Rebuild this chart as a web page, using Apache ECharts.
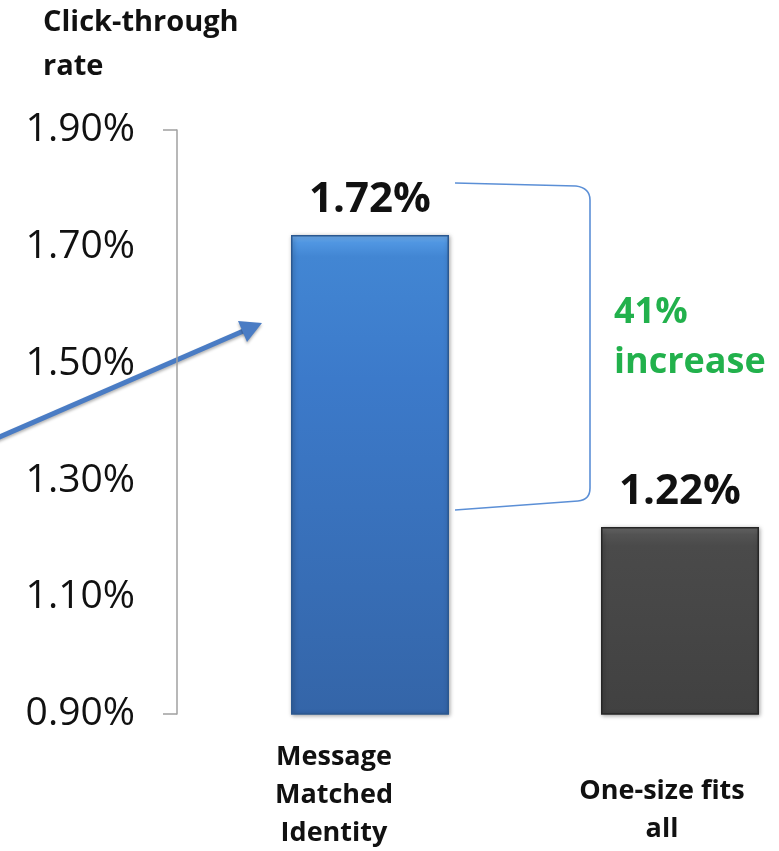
<!DOCTYPE html>
<html>
<head>
<meta charset="utf-8">
<script src="https://cdn.jsdelivr.net/npm/echarts@6/dist/echarts.min.js"></script>
<style>
html,body{margin:0;padding:0;background:#fff;}
#chart{width:779px;height:851px;}
</style>
</head>
<body>
<div id="chart"></div>
<script>
const categories = ['Message\nMatched\nIdentity', 'One-size fits\nall'];
const ctrValues = [1.72, 1.22];
const yMin = 0.9, yMax = 1.9, yStep = 0.2;
const titleText = 'Click-through\nrate';
const annotationText = '41%\nincrease';

const FONT = '"Open Sans", "DejaVu Sans", sans-serif';
const chart = echarts.init(document.getElementById('chart'));

const barStyles = [
  {
    color: new echarts.graphic.LinearGradient(0, 0, 0, 1, [
      {offset: 0, color: '#74b2f3'}, {offset: 0.016, color: '#5096e2'}, {offset: 0.045, color: '#4286d3'},
      {offset: 0.3, color: '#3c7aca'}, {offset: 1, color: '#3465a8'}
    ]),
    borderColor: '#2b5890', borderWidth: 1.5,
    shadowColor: 'rgba(0,0,0,0.35)', shadowBlur: 4, shadowOffsetX: 1, shadowOffsetY: 1
  },
  {
    color: new echarts.graphic.LinearGradient(0, 0, 0, 1, [
      {offset: 0, color: '#6e6e6e'}, {offset: 0.04, color: '#535353'}, {offset: 0.1, color: '#4a4a4a'},
      {offset: 1, color: '#414141'}
    ]),
    borderColor: '#262626', borderWidth: 1.5,
    shadowColor: 'rgba(0,0,0,0.35)', shadowBlur: 4, shadowOffsetX: 1, shadowOffsetY: 1
  }
];

const bracketStyle = {stroke: '#5b8fd6', lineWidth: 1.6, fill: null};
const labelBase = {fontFamily: FONT, fontWeight: 'bold', fontSize: 27, lineHeight: 38, color: '#111'};

const option = {
  backgroundColor: '#ffffff',
  animation: false,
  title: {
    text: titleText,
    left: 38, top: -4,
    textStyle: {fontFamily: FONT, fontWeight: 'bold', fontSize: 29, lineHeight: 44, color: '#111'}
  },
  grid: {left: 215, width: 620, top: 130, bottom: 137, containLabel: false, outerBoundsMode: 'none'},
  xAxis: {
    type: 'category',
    data: categories,
    axisLine: {show: false},
    axisTick: {show: false},
    axisLabel: {
      margin: 24,
      interval: 0,
      formatter: function (v, i) {
        const lines = v.split('\n');
        if (i === 0) {
          return lines.map(l => '{a|' + l + '}').join('\n');
        }
        return '{sp| }\n' + lines.map(l => '{b|' + l + '}').join('\n');
      },
      rich: {
        a: Object.assign({}, labelBase, {padding: [0, 72, 0, 0]}),
        b: Object.assign({}, labelBase, {padding: [0, 36, 0, 0]}),
        sp: {fontSize: 1, lineHeight: 34}
      }
    }
  },
  yAxis: {
    type: 'value',
    min: yMin, max: yMax, interval: yStep,
    offset: 38,
    axisLine: {show: true, lineStyle: {color: '#a0a0a0', width: 1.5}},
    axisTick: {show: true, customValues: [yMin, yMax], length: 14, lineStyle: {color: '#a0a0a0', width: 1.5}},
    splitLine: {show: false},
    axisLabel: {
      margin: 42,
      fontFamily: FONT, fontSize: 39, color: '#111',
      formatter: v => v.toFixed(2) + '%'
    }
  },
  series: [{
    type: 'bar',
    barWidth: 158,
    data: ctrValues.map((v, i) => ({value: v, itemStyle: barStyles[i]})),
    label: {
      show: true, position: 'top', distance: 14,
      fontFamily: FONT, fontWeight: 'bold', fontSize: 42, color: '#111',
      formatter: p => p.value.toFixed(2) + '%'
    }
  }],
  graphic: [
    {type: 'line', shape: {x1: 455, y1: 183, x2: 576, y2: 186}, style: bracketStyle},
    {type: 'bezierCurve', shape: {x1: 576, y1: 186, cpx1: 590, cpy1: 188, x2: 590, y2: 200}, style: bracketStyle},
    {type: 'line', shape: {x1: 590, y1: 200, x2: 590, y2: 488}, style: bracketStyle},
    {type: 'bezierCurve', shape: {x1: 590, y1: 488, cpx1: 590, cpy1: 500, x2: 578, y2: 501}, style: bracketStyle},
    {type: 'line', shape: {x1: 578, y1: 501, x2: 455, y2: 510}, style: bracketStyle},
    {
      type: 'text', left: 614, top: 288,
      style: {text: annotationText, fontFamily: FONT, fontWeight: 'bold', fontSize: 36, lineHeight: 50, fill: '#22b14c'}
    },
    {
      type: 'line',
      shape: {x1: -5, y1: 439, x2: 248, y2: 329},
      style: {stroke: '#4a7cc4', lineWidth: 5, shadowColor: 'rgba(0,0,0,0.3)', shadowBlur: 3, shadowOffsetY: 2}
    },
    {
      type: 'polygon',
      shape: {points: [[262, 323], [238, 321], [247, 342]]},
      style: {fill: '#4a7cc4', shadowColor: 'rgba(0,0,0,0.3)', shadowBlur: 3, shadowOffsetY: 2}
    }
  ]
};
chart.setOption(option);
</script>
</body>
</html>
